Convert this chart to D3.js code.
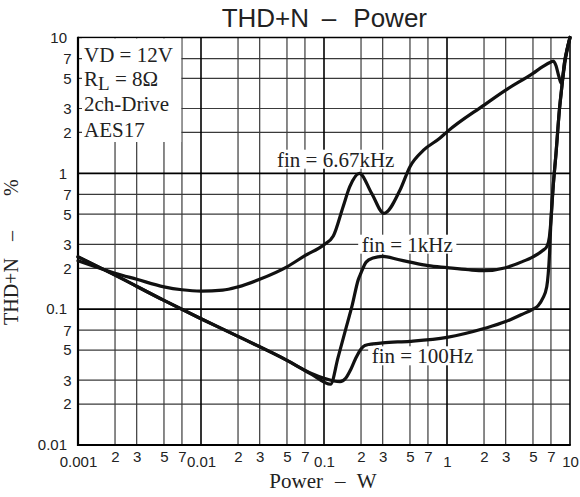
<!DOCTYPE html>
<html>
<head>
<meta charset="utf-8">
<script src="https://cdn.jsdelivr.net/npm/d3@7"></script>
<style>
  html, body { margin: 0; padding: 0; background: #fff; }
  svg { display: block; }
  .serif { font-family: "Liberation Serif", "Times New Roman", serif; }
  .sans { font-family: "Liberation Sans", Arial, sans-serif; }
</style>
</head>
<body>
<svg id="chart" width="580" height="497"></svg>
<script>
// ---------- data ----------
const xDecades = [0.001, 0.01, 0.1, 1, 10];
const xDecadeLabels = ["0.001", "0.01", "0.1", "1", "10"];
const xMinor = [0.002, 0.003, 0.005, 0.007, 0.02, 0.03, 0.05, 0.07, 0.2, 0.3, 0.5, 0.7, 2, 3, 5, 7];
const xMinorLabels = ["2", "3", "5", "7", "2", "3", "5", "7", "2", "3", "5", "7", "2", "3", "5", "7"];
const yDecades = [0.01, 0.1, 1, 10];
const yDecadeLabels = ["0.01", "0.1", "1", "10"];
const yMinor = [0.02, 0.03, 0.05, 0.07, 0.2, 0.3, 0.5, 0.7, 2, 3, 5, 7];
const yMinorLabels = ["2", "3", "5", "7", "2", "3", "5", "7", "2", "3", "5", "7"];

// series: [power W, THD+N %]
const fin6k67 = [
  [0.001, 0.227], [0.002, 0.184], [0.003, 0.166], [0.005, 0.146], [0.007, 0.139],
  [0.01, 0.136], [0.015, 0.138], [0.02, 0.146], [0.03, 0.166], [0.05, 0.205],
  [0.07, 0.248], [0.1, 0.298], [0.119, 0.345], [0.143, 0.568], [0.162, 0.797],
  [0.194, 1.0], [0.244, 0.712], [0.307, 0.507], [0.415, 0.754], [0.5, 1.12],
  [0.644, 1.48], [0.873, 1.81], [1, 2.02], [2, 3.18], [3, 4.1], [5, 5.45],
  [6, 6.1], [7.0, 6.6], [7.3, 6.7], [7.7, 6.2], [8.1, 5.2], [8.5, 4.6],
  [8.8, 5.3], [9.2, 7.0], [10, 10]
];
const fin1k = [
  [0.001, 0.243], [0.002, 0.178], [0.005, 0.116], [0.01, 0.085], [0.02, 0.063],
  [0.05, 0.042], [0.08, 0.033], [0.113, 0.028], [0.13, 0.044], [0.15, 0.071],
  [0.17, 0.108], [0.19, 0.165], [0.2, 0.185], [0.22, 0.222], [0.25, 0.238],
  [0.3, 0.245], [0.4, 0.232], [0.5, 0.222], [0.7, 0.209], [1, 0.202], [1.5, 0.195],
  [2, 0.192], [3, 0.202], [4, 0.222], [5, 0.243], [6, 0.27], [6.5, 0.29],
  [6.8, 0.34], [7.0, 0.45], [7.3, 0.8], [7.7, 1.41], [8.2, 2.93], [8.6, 4.4],
  [9.0, 6.45], [9.5, 8.3], [10, 10]
];
const fin100 = [
  [0.001, 0.243], [0.002, 0.178], [0.005, 0.116], [0.01, 0.085], [0.02, 0.063],
  [0.05, 0.042], [0.08, 0.0335], [0.1, 0.031], [0.12, 0.0296], [0.135, 0.0293],
  [0.15, 0.031], [0.165, 0.036], [0.18, 0.043], [0.2, 0.051], [0.215, 0.054],
  [0.25, 0.0555], [0.3, 0.0565], [0.5, 0.058], [1, 0.062], [2, 0.072], [3, 0.081],
  [4, 0.091], [5, 0.1], [5.5, 0.106], [6.0, 0.12], [6.47, 0.146], [6.82, 0.259],
  [7.0, 0.45], [7.3, 0.8], [7.7, 1.41], [8.2, 2.93], [8.6, 4.4], [9.0, 6.45],
  [9.5, 8.3], [10, 10]
];
const series = [
  { name: "fin = 6.67kHz", values: fin6k67 },
  { name: "fin = 1kHz", values: fin1k },
  { name: "fin = 100Hz", values: fin100 }
];
const conditionLines = ["VD = 12V", "R_L = 8Ω", "2ch-Drive", "AES17"];

// ---------- layout ----------
const svg = d3.select("#chart");
const pL = 78, pR = 570, pT = 37.5, pB = 445;
const x = d3.scaleLog().domain([0.001, 10]).range([pL, pR]);
const y = d3.scaleLog().domain([0.01, 10]).range([pB, pT]);

// grid
const grid = svg.append("g");
grid.selectAll(".vmin").data(xMinor).join("line")
  .attr("x1", d => x(d)).attr("x2", d => x(d)).attr("y1", pT).attr("y2", pB)
  .attr("stroke", "#3a3a3a").attr("stroke-width", 1.2);
grid.selectAll(".hmin").data(yMinor).join("line")
  .attr("y1", d => y(d)).attr("y2", d => y(d)).attr("x1", pL).attr("x2", pR)
  .attr("stroke", "#3a3a3a").attr("stroke-width", 1.2);
grid.selectAll(".vmaj").data(xDecades).join("line")
  .attr("x1", d => x(d)).attr("x2", d => x(d)).attr("y1", pT).attr("y2", pB)
  .attr("stroke", "#000").attr("stroke-width", 1.6);
grid.selectAll(".hmaj").data(yDecades).join("line")
  .attr("y1", d => y(d)).attr("y2", d => y(d)).attr("x1", pL).attr("x2", pR)
  .attr("stroke", "#000").attr("stroke-width", 1.6);

// axis lines
svg.append("line").attr("x1", pL).attr("x2", pL).attr("y1", pT - 0.8).attr("y2", pB + 1)
  .attr("stroke", "#000").attr("stroke-width", 2.2);
svg.append("line").attr("x1", pL - 1).attr("x2", pR + 0.8).attr("y1", pB).attr("y2", pB)
  .attr("stroke", "#000").attr("stroke-width", 2.2);

// condition box (white)
svg.append("rect").attr("x", pL + 4).attr("y", pT + 1).attr("width", x(0.007) - pL - 4.7)
  .attr("height", 142 - pT - 1).attr("fill", "#fff");

// axes labels via d3 axes
function styleAxis(g) {
  g.select(".domain").remove();
  g.selectAll("text").attr("class", "sans").attr("font-size", 15).attr("fill", "#222");
}
svg.append("g").attr("transform", `translate(0,${pB})`)
  .call(d3.axisBottom(x).tickValues(xMinor).tickSize(0).tickPadding(6)
    .tickFormat((d, i) => xMinorLabels[i]))
  .call(styleAxis);
svg.append("g").attr("transform", `translate(0,${pB})`)
  .call(d3.axisBottom(x).tickValues(xDecades).tickSize(0).tickPadding(11.5)
    .tickFormat((d, i) => xDecadeLabels[i]))
  .call(styleAxis);
svg.append("g").attr("transform", `translate(${pL},0)`)
  .call(d3.axisLeft(y).tickValues(yMinor).tickSize(0).tickPadding(6.5)
    .tickFormat((d, i) => yMinorLabels[i]))
  .call(styleAxis);
svg.append("g").attr("transform", `translate(${pL},0)`)
  .call(d3.axisLeft(y).tickValues(yDecades).tickSize(0).tickPadding(11)
    .tickFormat((d, i) => yDecadeLabels[i]))
  .call(styleAxis);

// series label boxes
const labelPos = [
  { x: 277, y: 166.7 },
  { x: 361.7, y: 251.7 },
  { x: 371.7, y: 363.3 }
];
const labelG = svg.append("g");
const labelTexts = labelG.selectAll("text").data(series).join("text")
  .attr("class", "serif").attr("font-size", 21).attr("fill", "#222")
  .attr("x", (d, i) => labelPos[i].x).attr("y", (d, i) => labelPos[i].y)
  .text(d => d.name);
labelTexts.each(function () {
  const b = this.getBBox();
  labelG.insert("rect", "text").attr("x", b.x - 3.5).attr("y", b.y + 2)
    .attr("width", b.width + 7).attr("height", b.height - 5).attr("fill", "#fff");
});

// curves
const line = d3.line().x(d => x(d[0])).y(d => y(d[1])).curve(d3.curveMonotoneX);
svg.append("g").selectAll("path").data(series).join("path")
  .attr("d", d => line(d.values))
  .attr("fill", "none").attr("stroke", "#111").attr("stroke-width", 3.2)
  .attr("stroke-linejoin", "round").attr("stroke-linecap", "round");

// bring label text on top
labelG.raise();

// condition text
const cond = svg.append("g").attr("class", "serif").attr("font-size", 21).attr("fill", "#222");
const condY = [61.7, 85.5, 110.7, 136.5];
conditionLines.forEach((t, i) => {
  const tx = cond.append("text").attr("x", 84).attr("y", condY[i]);
  if (t.startsWith("R_L")) {
    tx.append("tspan").text("R");
    tx.append("tspan").attr("dy", 4).attr("font-size", 19).text("L");
    tx.append("tspan").attr("dy", -4).text(t.slice(3));
  } else {
    tx.text(t);
  }
});

// title
const title = svg.append("text").attr("class", "sans").attr("font-size", 26).attr("fill", "#222")
  .attr("y", 26.7);
title.append("tspan").attr("x", 221.7).text("THD+N");
title.append("tspan").attr("x", 321.7).text("–");
title.append("tspan").attr("x", 353.3).text("Power");

// x axis title
const xt = svg.append("text").attr("class", "serif").attr("font-size", 21).attr("fill", "#222")
  .attr("y", 488.3);
xt.append("tspan").attr("x", 269.3).text("Power");
xt.append("tspan").attr("x", 335).text("–");
xt.append("tspan").attr("x", 356.7).text("W");

// y axis title
const yt = svg.append("text").attr("class", "serif").attr("font-size", 20).attr("fill", "#222")
  .attr("transform", "translate(18.3,0) rotate(-90)");
yt.append("tspan").attr("x", -325).text("THD+N");
yt.append("tspan").attr("x", -241).text("–");
yt.append("tspan").attr("x", -196).text("%");
</script>
</body>
</html>
